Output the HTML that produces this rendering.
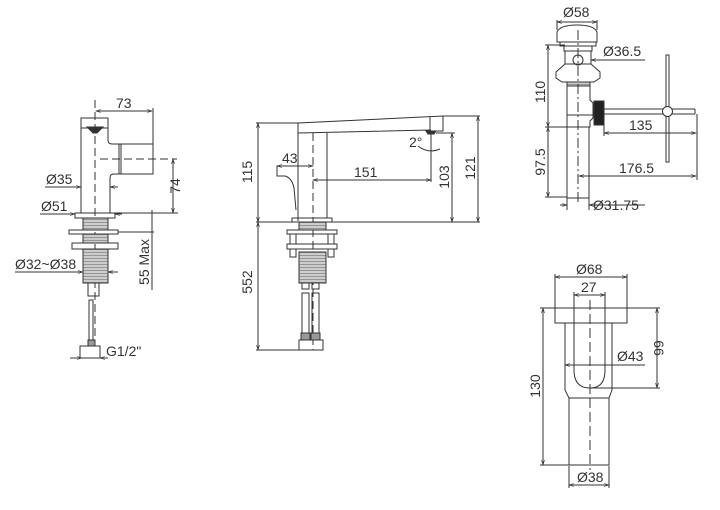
<!DOCTYPE html>
<html><head><meta charset="utf-8"><style>
html,body{margin:0;padding:0;background:#fff;}
svg{display:block;}
text{font-family:"Liberation Sans",sans-serif;font-size:14px;fill:#333;}
</style></head><body>
<svg width="720" height="510" viewBox="0 0 720 510" xmlns="http://www.w3.org/2000/svg">
<defs>
<marker id="a" viewBox="0 0 10 10" refX="10" refY="5" markerWidth="7" markerHeight="5" orient="auto-start-reverse"><path d="M0,2 L10,5 L0,8" fill="none" stroke="#333" stroke-width="1.2"/></marker>
<pattern id="th" width="4" height="3" patternUnits="userSpaceOnUse"><rect width="4" height="3" fill="#ccc"/><line x1="0" y1="0.5" x2="4" y2="0.5" stroke="#888" stroke-width="0.8"/></pattern>
</defs>
<g stroke="#333" stroke-width="1" fill="none">
<!-- VIEW 1 -->
<path d="M81,213 V118 H108 V140 Q108,144 112,144 H121 M110,213 V178 Q110,174 114,174 H121"/>
<rect x="121" y="144" width="32" height="30"/>
<line x1="119" y1="144" x2="119" y2="174"/>
<line x1="81" y1="128" x2="108" y2="128"/>
<path d="M87,127 H103 L97,133 H93 Z" fill="#333"/>
<line x1="95" y1="100" x2="95" y2="340" stroke-dasharray="8,4"/>
<line x1="100" y1="159" x2="177" y2="159" stroke-dasharray="8,4"/>
<rect x="75" y="213" width="40" height="5"/>
<rect x="83" y="218" width="25" height="12" fill="url(#th)"/>
<rect x="69" y="230" width="49" height="4"/>
<rect x="83" y="234" width="25" height="9" fill="url(#th)"/>
<rect x="72" y="243" width="46" height="6"/>
<rect x="83" y="249" width="25" height="34" fill="url(#th)"/>
<rect x="88" y="283" width="11" height="13"/>
<rect x="89" y="300" width="4" height="40"/>
<rect x="88" y="340" width="7" height="6" fill="#999"/>
<rect x="80" y="346" width="20" height="12"/>
<line x1="96" y1="111" x2="152" y2="111" marker-start="url(#a)" marker-end="url(#a)"/>
<line x1="153" y1="108" x2="153" y2="144"/>
<line x1="173" y1="159" x2="173" y2="213" marker-start="url(#a)" marker-end="url(#a)"/>
<line x1="115" y1="213" x2="178" y2="213"/>
<line x1="45" y1="187" x2="81" y2="187" marker-end="url(#a)"/>
<line x1="110" y1="187" x2="118" y2="187" marker-start="url(#a)"/>
<line x1="40" y1="214" x2="75" y2="214" marker-end="url(#a)"/>
<line x1="115" y1="214" x2="122" y2="214" marker-start="url(#a)"/>
<line x1="15" y1="272" x2="83" y2="272" marker-end="url(#a)"/>
<line x1="108" y1="272" x2="118" y2="272" marker-start="url(#a)"/>
<line x1="152" y1="210" x2="152" y2="290"/>
<line x1="118" y1="232" x2="154" y2="232"/>
<line x1="70" y1="358" x2="82" y2="358" marker-end="url(#a)"/>
<line x1="100" y1="358" x2="108" y2="358" marker-start="url(#a)"/>
<!-- VIEW 2 -->
<path d="M298,221 V123 L443,116 V131 L431,131 M298,133 L431,130"/>
<line x1="430" y1="117" x2="430" y2="131"/>
<path d="M426,131 H436 L434,134 H428 Z" fill="#333"/>
<line x1="327" y1="133" x2="327" y2="218"/>
<line x1="313" y1="133" x2="313" y2="350" stroke-dasharray="8,4"/>
<path d="M298,166 H277 V176 H285 Q292,178 294,188 L296,210"/>
<rect x="292" y="218" width="40" height="4"/>
<rect x="299" y="222" width="27" height="8" fill="url(#th)"/>
<rect x="287" y="230" width="50" height="4"/>
<rect x="290" y="234" width="6" height="10"/><rect x="328" y="234" width="6" height="10"/>
<rect x="287" y="244" width="50" height="5"/>
<rect x="290" y="249" width="6" height="8"/><rect x="328" y="249" width="6" height="8"/>
<rect x="299" y="252" width="27" height="31" fill="url(#th)"/>
<rect x="302" y="283" width="7" height="6"/><rect x="312" y="283" width="7" height="6"/>
<rect x="302" y="293" width="7" height="40"/><rect x="312" y="293" width="7" height="40"/>
<rect x="301" y="333" width="9" height="7" fill="#999"/><rect x="311" y="333" width="9" height="7" fill="#999"/>
<rect x="299" y="340" width="24" height="10"/>
<line x1="256" y1="123" x2="298" y2="123"/>
<line x1="256" y1="222" x2="480" y2="222"/>
<line x1="256" y1="350" x2="300" y2="350"/>
<line x1="258" y1="123" x2="258" y2="222" marker-start="url(#a)" marker-end="url(#a)"/>
<line x1="258" y1="222" x2="258" y2="350" marker-start="url(#a)" marker-end="url(#a)"/>
<line x1="443" y1="116" x2="480" y2="116"/>
<line x1="478" y1="116" x2="478" y2="222" marker-start="url(#a)" marker-end="url(#a)"/>
<line x1="436" y1="133" x2="455" y2="133"/>
<line x1="452" y1="133" x2="452" y2="222" marker-start="url(#a)" marker-end="url(#a)"/>
<line x1="313" y1="180" x2="431" y2="180" marker-start="url(#a)" marker-end="url(#a)"/>
<line x1="431" y1="131" x2="431" y2="182"/>
<line x1="277" y1="166" x2="313" y2="166" marker-start="url(#a)" marker-end="url(#a)"/>
<path d="M418,146 Q428,154 440,149"/>
<!-- VIEW 3 -->
<path d="M557,42 V32 Q560,25 577,25 Q594,25 597,32 V42 Z"/>
<rect x="560" y="42" width="36" height="4"/>
<rect x="564" y="46" width="28" height="5"/>
<path d="M565,51 H591 V64 H565 Z"/>
<circle cx="578" cy="60" r="5"/>
<path d="M565,64 L556,72 V78 L562,82 H594 L600,78 V72 L591,64"/>
<rect x="567" y="82" width="23" height="4" fill="url(#th)"/>
<path d="M567,86 V127 H590 V121 L593,118 V103 L590,100 V86"/>
<line x1="567" y1="115" x2="593" y2="115"/>
<rect x="594" y="101" width="10" height="24" fill="#222"/>
<line x1="604" y1="109" x2="695" y2="109"/><line x1="604" y1="114" x2="695" y2="114"/>
<line x1="695" y1="109" x2="695" y2="114"/>
<rect x="666" y="55" width="3" height="107"/>
<circle cx="667.5" cy="111.5" r="5" fill="#fff"/>
<rect x="567" y="127" width="22" height="71"/>
<line x1="578" y1="30" x2="578" y2="205" stroke-dasharray="10,3,2,3"/>
<line x1="557" y1="20" x2="557" y2="30"/><line x1="597" y1="20" x2="597" y2="30"/>
<line x1="557" y1="22" x2="597" y2="22" marker-start="url(#a)" marker-end="url(#a)"/>
<line x1="591" y1="60" x2="645" y2="60" marker-start="url(#a)"/>
<line x1="545" y1="45" x2="565" y2="45"/><line x1="545" y1="127" x2="567" y2="127"/><line x1="545" y1="197" x2="567" y2="197"/>
<line x1="548" y1="45" x2="548" y2="127" marker-start="url(#a)" marker-end="url(#a)"/>
<line x1="548" y1="127" x2="548" y2="197" marker-start="url(#a)" marker-end="url(#a)"/>
<line x1="604" y1="125" x2="604" y2="136"/><line x1="697" y1="114" x2="697" y2="180"/>
<line x1="604" y1="133" x2="696" y2="133" marker-start="url(#a)" marker-end="url(#a)"/>
<line x1="579" y1="176" x2="696" y2="176" marker-start="url(#a)" marker-end="url(#a)"/>
<line x1="567" y1="198" x2="567" y2="210"/><line x1="589" y1="198" x2="589" y2="210"/>
<line x1="560" y1="205" x2="567" y2="205" marker-end="url(#a)"/>
<line x1="589" y1="205" x2="645" y2="205" marker-start="url(#a)"/>
<!-- VIEW 4 -->
<rect x="555" y="308" width="72" height="15"/>
<path d="M565,323 V390 L569,398 H609 L612,390 V323"/>
<path d="M574,298 V370 Q574,388 590,388 Q605,388 605,370 V298"/>
<rect x="569" y="398" width="40" height="67"/>
<line x1="590" y1="300" x2="590" y2="470" stroke-dasharray="10,4"/>
<line x1="555" y1="274" x2="555" y2="308"/><line x1="627" y1="274" x2="627" y2="308"/>
<line x1="555" y1="277" x2="627" y2="277" marker-start="url(#a)" marker-end="url(#a)"/>
<line x1="574" y1="292" x2="574" y2="300"/><line x1="605" y1="292" x2="605" y2="300"/>
<line x1="574" y1="295" x2="605" y2="295" marker-start="url(#a)" marker-end="url(#a)"/>
<line x1="540" y1="308" x2="555" y2="308"/><line x1="540" y1="465" x2="569" y2="465"/>
<line x1="543" y1="308" x2="543" y2="465" marker-start="url(#a)" marker-end="url(#a)"/>
<line x1="627" y1="308" x2="660" y2="308"/><line x1="590" y1="388" x2="660" y2="388"/>
<line x1="657" y1="308" x2="657" y2="388" marker-start="url(#a)" marker-end="url(#a)"/>
<line x1="565" y1="365" x2="645" y2="365" marker-start="url(#a)"/>
<line x1="569" y1="466" x2="569" y2="488"/><line x1="609" y1="466" x2="609" y2="488"/>
<line x1="569" y1="485" x2="609" y2="485" marker-start="url(#a)" marker-end="url(#a)"/>
</g>
<text x="116" y="108">73</text>
<text x="180" y="186" transform="rotate(-90 180 186)" text-anchor="middle">74</text>
<text x="46" y="184">Ø35</text>
<text x="41" y="211">Ø51</text>
<text x="15" y="269">Ø32~Ø38</text>
<text x="149" y="262" transform="rotate(-90 149 262)" text-anchor="middle">55 Max</text>
<text x="106" y="356">G1/2"</text>
<text x="252" y="172" transform="rotate(-90 252 172)" text-anchor="middle">115</text>
<text x="252" y="282" transform="rotate(-90 252 282)" text-anchor="middle">552</text>
<text x="282" y="163">43</text>
<text x="354" y="177">151</text>
<text x="409" y="147">2°</text>
<text x="449" y="177" transform="rotate(-90 449 177)" text-anchor="middle">103</text>
<text x="475" y="168" transform="rotate(-90 475 168)" text-anchor="middle">121</text>
<text x="563" y="17">Ø58</text>
<text x="603" y="56">Ø36.5</text>
<text x="545" y="92" transform="rotate(-90 545 92)" text-anchor="middle">110</text>
<text x="545" y="162" transform="rotate(-90 545 162)" text-anchor="middle">97.5</text>
<text x="629" y="130">135</text>
<text x="619" y="173">176.5</text>
<text x="593" y="210">Ø31.75</text>
<text x="576" y="274">Ø68</text>
<text x="581" y="292">27</text>
<text x="617" y="361">Ø43</text>
<text x="540" y="386" transform="rotate(-90 540 386)" text-anchor="middle">130</text>
<text x="654" y="348" transform="rotate(90 654 348)" text-anchor="middle">66</text>
<text x="577" y="482">Ø38</text>
</svg>
</body></html>
